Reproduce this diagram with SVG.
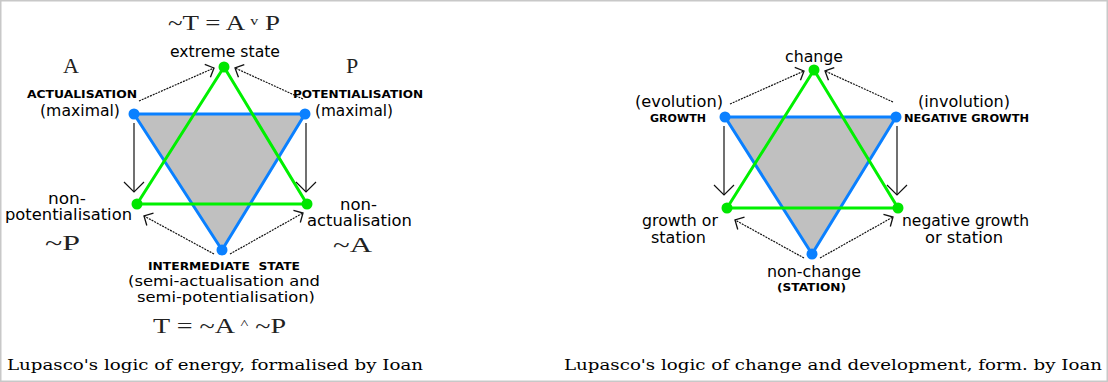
<svg xmlns="http://www.w3.org/2000/svg" width="1108" height="382" viewBox="0 0 1108 382">
  <style>
    .sans { font-family: "DejaVu Sans", "Liberation Sans", sans-serif; font-size: 15px; fill: #000; }
    .tight { font-size: 13.5px; }
    .caps { font-family: "DejaVu Sans", "Liberation Sans", sans-serif; font-size: 10.5px; font-weight: bold; fill: #000; }
    .serif { font-family: "Liberation Serif", "DejaVu Serif", serif; font-size: 22px; fill: #222; }
    .caption { font-family: "DejaVu Serif", "Liberation Serif", serif; font-size: 15.5px; fill: #000; }
    .fill { fill: #c0c0c0; stroke: none; }
    .blue { fill: none; stroke: #0a80ff; stroke-width: 3; stroke-linejoin: round; }
    .green { fill: none; stroke: #00f000; stroke-width: 3; stroke-linejoin: round; }
    .dotB { fill: #0a80ff; }
    .dotG { fill: #00e600; }
    .solid { stroke: #111; stroke-width: 1.2; fill: none; marker-end: url(#vBig); }
    .dash { stroke: #111; stroke-width: 1.2; fill: none; stroke-dasharray: 2 1; marker-end: url(#vSmall); }
  </style>
  <defs>
    <marker id="vBig" viewBox="-12 -12 14 24" markerWidth="14" markerHeight="24" refX="0" refY="0" orient="auto" markerUnits="userSpaceOnUse">
      <path d="M-10,-10 L0,0 L-10,10" fill="none" stroke="#111" stroke-width="1.2"/>
    </marker>
    <marker id="vSmall" viewBox="-9 -9 11 18" markerWidth="11" markerHeight="18" refX="0" refY="0" orient="auto" markerUnits="userSpaceOnUse">
      <path d="M-7,-7 L0,0 L-7,7" fill="none" stroke="#111" stroke-width="1.3"/>
    </marker>
  </defs>

  <rect x="0.75" y="0.75" width="1106.5" height="380.5" fill="#fff" stroke="#c8c8c8" stroke-width="1.5"/>

  <!-- shaded inner triangles -->
  <g id="shading">
    <polygon class="fill" points="134,114 305,114 222,250"/>
    <polygon class="fill" points="725,117 896,117 812,254"/>
  </g>

  <!-- connectors: triangle edges and arrows -->
  <g id="connectors">
    <polygon class="blue" points="134,114 305,114 222,250"/>
    <polygon class="green" points="224,67 307,204 137,204"/>
    <line class="solid" x1="134" y1="123" x2="134" y2="192"/>
    <line class="solid" x1="306" y1="123" x2="306" y2="192"/>
    <line class="dash" x1="139" y1="101" x2="214" y2="68"/>
    <line class="dash" x1="303" y1="99" x2="235" y2="68"/>
    <line class="dash" x1="214" y1="254" x2="144" y2="216"/>
    <line class="dash" x1="230" y1="254" x2="303" y2="213"/>

    <polygon class="blue" points="725,117 896,117 812,254"/>
    <polygon class="green" points="814,70 898,208 727,208"/>
    <line class="solid" x1="724" y1="126" x2="724" y2="195"/>
    <line class="solid" x1="897" y1="126" x2="897" y2="195"/>
    <line class="dash" x1="730" y1="104" x2="804" y2="71"/>
    <line class="dash" x1="893" y1="102" x2="825" y2="71"/>
    <line class="dash" x1="804" y1="258" x2="735" y2="220"/>
    <line class="dash" x1="820" y1="258" x2="893" y2="217"/>
  </g>

  <!-- energy diagram nodes -->
  <g id="extreme-state">
    <circle class="dotG" cx="224" cy="67" r="5.5"/>
    <text class="serif" x="168" y="30" textLength="112" lengthAdjust="spacingAndGlyphs">~T = A <tspan font-size="13" dy="-5">v</tspan><tspan dy="5"> P</tspan></text>
    <text class="sans" x="170" y="57" textLength="110" lengthAdjust="spacingAndGlyphs">extreme state</text>
  </g>
  <g id="actualisation">
    <circle class="dotB" cx="134" cy="114" r="5.5"/>
    <text class="serif" x="63" y="73">A</text>
    <text class="caps" x="27" y="98" textLength="110" lengthAdjust="spacingAndGlyphs">ACTUALISATION</text>
    <text class="sans" x="40" y="116" textLength="80" lengthAdjust="spacingAndGlyphs">(maximal)</text>
  </g>
  <g id="potentialisation">
    <circle class="dotB" cx="305" cy="114" r="5.5"/>
    <text class="serif" x="346" y="73">P</text>
    <text class="caps" x="293" y="98" textLength="130" lengthAdjust="spacingAndGlyphs">POTENTIALISATION</text>
    <text class="sans" x="315" y="116" textLength="78" lengthAdjust="spacingAndGlyphs">(maximal)</text>
  </g>
  <g id="non-potentialisation">
    <circle class="dotG" cx="137" cy="204" r="5.5"/>
    <text class="sans" x="48" y="204" textLength="38" lengthAdjust="spacingAndGlyphs">non-</text>
    <text class="sans" x="5" y="220" textLength="127" lengthAdjust="spacingAndGlyphs">potentialisation</text>
    <text class="serif" x="45" y="250" textLength="35" lengthAdjust="spacingAndGlyphs">~P</text>
  </g>
  <g id="non-actualisation">
    <circle class="dotG" cx="307" cy="204" r="5.5"/>
    <text class="sans" x="340" y="210" textLength="37" lengthAdjust="spacingAndGlyphs">non-</text>
    <text class="sans" x="307" y="226" textLength="105" lengthAdjust="spacingAndGlyphs">actualisation</text>
    <text class="serif" x="333" y="252" textLength="39" lengthAdjust="spacingAndGlyphs">~A</text>
  </g>
  <g id="intermediate-state">
    <circle class="dotB" cx="222" cy="250" r="5.5"/>
    <text class="caps" x="148" y="270" textLength="152" lengthAdjust="spacingAndGlyphs" xml:space="preserve">INTERMEDIATE  STATE</text>
    <text class="sans tight" x="128" y="286" textLength="192" lengthAdjust="spacingAndGlyphs">(semi-actualisation and</text>
    <text class="sans tight" x="137" y="302" textLength="178" lengthAdjust="spacingAndGlyphs">semi-potentialisation)</text>
    <text class="serif" x="153" y="333" textLength="133" lengthAdjust="spacingAndGlyphs">T = ~A <tspan font-size="13" dy="-5">^</tspan><tspan dy="5"> ~P</tspan></text>
  </g>
  <text class="caption" x="7" y="370" textLength="416" lengthAdjust="spacingAndGlyphs">Lupasco's logic of energy, formalised by Ioan</text>

  <!-- change diagram nodes -->
  <g id="change">
    <circle class="dotG" cx="814" cy="70" r="5.5"/>
    <text class="sans" x="785" y="62" textLength="58" lengthAdjust="spacingAndGlyphs">change</text>
  </g>
  <g id="growth">
    <circle class="dotB" cx="725" cy="117" r="5.5"/>
    <text class="sans" x="635" y="107" textLength="88" lengthAdjust="spacingAndGlyphs">(evolution)</text>
    <text class="caps" x="650" y="122" textLength="56" lengthAdjust="spacingAndGlyphs">GROWTH</text>
  </g>
  <g id="negative-growth">
    <circle class="dotB" cx="896" cy="117" r="5.5"/>
    <text class="sans" x="918" y="107" textLength="92" lengthAdjust="spacingAndGlyphs">(involution)</text>
    <text class="caps" x="904" y="122" textLength="125" lengthAdjust="spacingAndGlyphs">NEGATIVE GROWTH</text>
  </g>
  <g id="growth-or-station">
    <circle class="dotG" cx="727" cy="208" r="5.5"/>
    <text class="sans" x="642" y="226" textLength="76" lengthAdjust="spacingAndGlyphs">growth or</text>
    <text class="sans" x="651" y="243" textLength="55" lengthAdjust="spacingAndGlyphs">station</text>
  </g>
  <g id="negative-growth-or-station">
    <circle class="dotG" cx="898" cy="208" r="5.5"/>
    <text class="sans" x="902" y="226" textLength="127" lengthAdjust="spacingAndGlyphs">negative growth</text>
    <text class="sans" x="925" y="243" textLength="78" lengthAdjust="spacingAndGlyphs">or station</text>
  </g>
  <g id="non-change">
    <circle class="dotB" cx="812" cy="254" r="5.5"/>
    <text class="sans" x="767" y="277" textLength="94" lengthAdjust="spacingAndGlyphs">non-change</text>
    <text class="caps" x="777" y="291" textLength="69" lengthAdjust="spacingAndGlyphs">(STATION)</text>
  </g>
  <text class="caption" x="564" y="370" textLength="538" lengthAdjust="spacingAndGlyphs">Lupasco's logic of change and development, form. by Ioan</text>
</svg>
